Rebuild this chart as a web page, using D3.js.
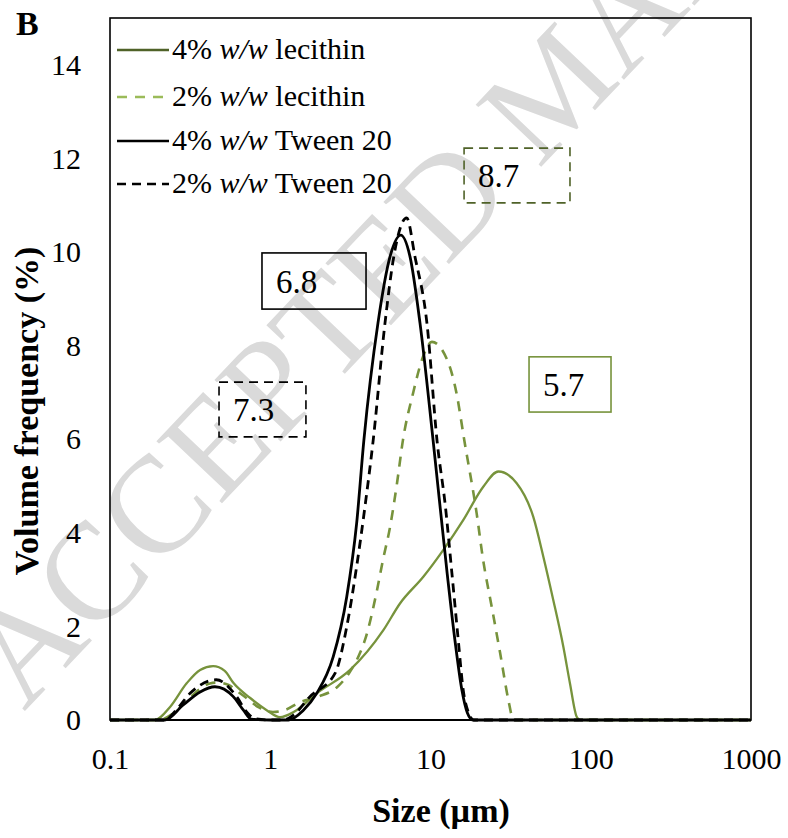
<!DOCTYPE html>
<html>
<head>
<meta charset="utf-8">
<script src="https://cdn.jsdelivr.net/npm/d3@7/dist/d3.min.js"></script>
<style>
  html, body { margin: 0; padding: 0; background: #fff; }
  svg { display: block; font-family: "Liberation Serif", "Times New Roman", serif; }
</style>
</head>
<body>
<svg id="chart" width="788" height="838"></svg>
<script>
// Particle size distributions (size in µm, volume frequency in %)
const lec4Size = [0.1, 0.19, 0.237, 0.30, 0.365, 0.44, 0.52, 0.59, 0.75, 0.95, 1.15, 1.4, 1.95, 3.15, 5.08, 6.45, 9.02, 12.0, 16.0, 21.4, 26.5, 34.5, 43.8, 50.6, 58.4, 67.4, 74.2, 81.7, 86, 1000];
const lec4Vol  = [0, 0, 0.28, 0.78, 1.07, 1.15, 1.05, 0.79, 0.47, 0.21, 0.06, 0.17, 0.57, 1.07, 1.92, 2.49, 3.06, 3.63, 4.27, 4.99, 5.31, 5.06, 4.34, 3.49, 2.56, 1.57, 0.78, 0.07, 0, 0];

const lec2Size = [0.1, 0.2, 0.25, 0.3, 0.36, 0.42, 0.47, 0.55, 0.62, 0.71, 0.85, 1.04, 1.25, 1.53, 2.0, 2.61, 3.1, 3.63, 3.9, 4.64, 5.05, 5.59, 6.18, 6.73, 7.78, 8.98, 10.2, 12.7, 14.5, 16.3, 19.4, 21.3, 24.1, 27.2, 30.6, 32.5, 34, 1000];
const lec2Vol  = [0, 0, 0.15, 0.4, 0.65, 0.78, 0.8, 0.75, 0.62, 0.47, 0.27, 0.17, 0.22, 0.38, 0.5, 0.7, 1.0, 1.43, 1.71, 2.78, 3.42, 4.12, 5.06, 5.98, 6.98, 7.76, 8.08, 7.7, 7.0, 5.95, 4.42, 3.42, 2.42, 1.43, 0.43, 0.05, 0, 0];

const tw4Size = [0.1, 0.22, 0.286, 0.365, 0.452, 0.588, 0.68, 0.76, 1.0, 1.3, 1.6, 1.95, 2.47, 3.0, 3.46, 3.84, 4.7, 5.59, 6.52, 7.45, 8.6, 10.4, 12.7, 14.2, 15.7, 17.0, 18.4, 1000];
const tw4Vol  = [0, 0, 0.32, 0.6, 0.71, 0.5, 0.21, 0.02, 0, 0, 0.2, 0.57, 1.35, 2.63, 4.2, 5.98, 8.48, 9.9, 10.36, 9.9, 8.48, 5.95, 3.14, 1.71, 0.64, 0.15, 0, 0];

const tw2Size = [0.1, 0.22, 0.26, 0.316, 0.46, 0.616, 0.71, 0.8, 1.0, 1.2, 1.39, 1.77, 2.54, 3.0, 3.46, 3.9, 4.38, 5.2, 5.9, 7.1, 8.0, 9.5, 11.0, 12.4, 13.6, 14.9, 16.0, 17.3, 18.6, 1000];
const tw2Vol  = [0, 0, 0.22, 0.57, 0.86, 0.5, 0.18, 0.03, 0, 0, 0.1, 0.5, 1.0, 1.99, 3.28, 4.56, 5.95, 8.48, 9.9, 10.73, 9.9, 8.48, 5.95, 4.55, 3.14, 1.71, 0.64, 0.15, 0, 0];

const seriesNames = ["4% w/w lecithin", "2% w/w lecithin", "4% w/w Tween 20", "2% w/w Tween 20"];

// Axis ticks
const xTicks = [0.1, 1, 10, 100, 1000];
const xTickLabels = ["0.1", "1", "10", "100", "1000"];
const yTicks = [0, 2, 4, 6, 8, 10, 12, 14];

// Boxed annotations (labels and their extents in data units)
const boxLabels = ["6.8", "7.3", "8.7", "5.7"];
const boxSizeMin = [0.888, 0.479, 16.2, 41.2];
const boxSizeMax = [3.96, 1.67, 74.2, 133.8];
const boxVolMin  = [8.78, 6.05, 11.05, 6.58];
const boxVolMax  = [9.98, 7.22, 12.22, 7.76];

const svg = d3.select("#chart");
const W = 788, H = 838;
const margin = { left: 110, top: 18, right: 788 - 751, bottom: 838 - 720 };
const innerW = W - margin.left - margin.right;
const innerH = H - margin.top - margin.bottom;

const GREEN = "#77933c";
const GREEN_DARK = "#4f6228";
const GREEN_LIGHT = "#9bbb59";

// Faint diagonal watermark behind the plot
svg.append("text")
  .attr("transform", "translate(24,712) rotate(-46.5)")
  .attr("font-family", "Liberation Serif, serif")
  .attr("font-size", 138)
  .attr("fill", "#dadada")
  .text("ACCEPTED MANUSCRIPT");

const x = d3.scaleLog().domain([0.1, 1000]).range([margin.left, margin.left + innerW]);
const y = d3.scaleLinear().domain([0, 15]).range([margin.top + innerH, margin.top]);

// Plot frame
svg.append("rect")
  .attr("x", margin.left).attr("y", margin.top)
  .attr("width", innerW).attr("height", innerH)
  .attr("fill", "none").attr("stroke", "#000").attr("stroke-width", 1.6);

// Y axis labels (no tick marks)
const yAxis = d3.axisLeft(y).tickValues(yTicks).tickSize(0).tickPadding(29).tickFormat(d3.format("d"));
svg.append("g")
  .attr("transform", `translate(${margin.left},0)`)
  .call(yAxis)
  .call(g => g.select(".domain").remove())
  .call(g => g.selectAll("text")
    .attr("font-family", "Liberation Serif, serif")
    .attr("font-size", 30).attr("fill", "#000"));

// X axis labels
const xAxis = d3.axisBottom(x).tickValues(xTicks).tickSize(0).tickPadding(28)
  .tickFormat((d, i) => xTickLabels[i]);
svg.append("g")
  .attr("transform", `translate(0,${margin.top + innerH})`)
  .call(xAxis)
  .call(g => g.select(".domain").remove())
  .call(g => g.selectAll("text")
    .attr("font-family", "Liberation Serif, serif")
    .attr("font-size", 30).attr("fill", "#000"));

// Bottom axis line
svg.append("line")
  .attr("x1", margin.left).attr("x2", margin.left + innerW)
  .attr("y1", y(0)).attr("y2", y(0))
  .attr("stroke", "#000").attr("stroke-width", 2);

// Boxed annotations
const boxStyles = [
  { stroke: "#000", dash: null },
  { stroke: "#000", dash: "9,6" },
  { stroke: GREEN_DARK, dash: "9,6" },
  { stroke: GREEN, dash: null }
];
boxLabels.forEach((lab, i) => {
  const x0 = x(boxSizeMin[i]), x1 = x(boxSizeMax[i]);
  const y0 = y(boxVolMax[i]), y1 = y(boxVolMin[i]);
  svg.append("rect")
    .attr("x", x0).attr("y", y0).attr("width", x1 - x0).attr("height", y1 - y0)
    .attr("fill", "none").attr("stroke", boxStyles[i].stroke).attr("stroke-width", 1.6)
    .attr("stroke-dasharray", boxStyles[i].dash);
  svg.append("text")
    .attr("x", x0 + 14).attr("y", y1 - 16)
    .attr("font-size", 33).attr("fill", "#000")
    .text(lab);
});

// Distribution curves
const line = d3.line()
  .x(d => x(d[0]))
  .y(d => y(d[1]))
  .curve(d3.curveMonotoneX);

const series = [
  { size: lec4Size, vol: lec4Vol, color: GREEN, dash: null, width: 2.3 },
  { size: lec2Size, vol: lec2Vol, color: GREEN, dash: "10,8", width: 2.6 },
  { size: tw4Size, vol: tw4Vol, color: "#000", dash: null, width: 2.8 },
  { size: tw2Size, vol: tw2Vol, color: "#000", dash: "9,6", width: 2.8 }
];

series.forEach(s => {
  svg.append("path")
    .datum(d3.zip(s.size, s.vol))
    .attr("fill", "none")
    .attr("stroke", s.color)
    .attr("stroke-width", s.width)
    .attr("stroke-dasharray", s.dash)
    .attr("d", line);
});

// Legend
const legendColors = [GREEN_DARK, GREEN_LIGHT, "#000", "#000"];
const legendDash = [null, "10,8", null, "9,6"];
const legendY = [50, 97, 141, 184];
seriesNames.forEach((name, i) => {
  const g = svg.append("g");
  g.append("line")
    .attr("x1", 117).attr("x2", 169)
    .attr("y1", legendY[i]).attr("y2", legendY[i])
    .attr("stroke", legendColors[i]).attr("stroke-width", 2.6)
    .attr("stroke-dasharray", legendDash[i]);
  const parts = name.split(" ");
  const t = g.append("text")
    .attr("x", 172).attr("y", legendY[i] + 9)
    .attr("font-size", 30).attr("fill", "#000");
  t.append("tspan").text(parts[0] + " ");
  t.append("tspan").attr("font-style", "italic").text(parts[1]);
  t.append("tspan").text(" " + parts.slice(2).join(" "));
});

// Axis titles
svg.append("text")
  .attr("x", 441).attr("y", 822)
  .attr("text-anchor", "middle")
  .attr("font-size", 34).attr("font-weight", "bold")
  .text("Size (µm)");

svg.append("text")
  .attr("transform", "translate(38,411) rotate(-90)")
  .attr("text-anchor", "middle")
  .attr("font-size", 34).attr("font-weight", "bold")
  .text("Volume frequency (%)");

// Panel letter
svg.append("text")
  .attr("x", 16).attr("y", 35)
  .attr("font-size", 34).attr("font-weight", "bold")
  .text("B");
</script>
</body>
</html>
